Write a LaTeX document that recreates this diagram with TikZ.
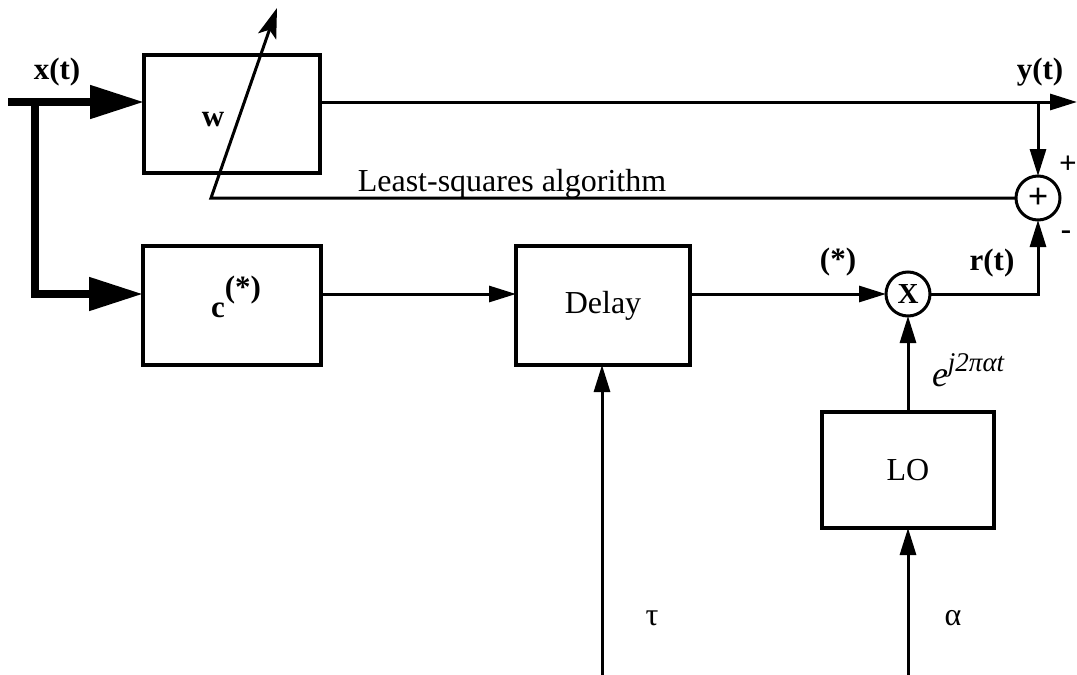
\documentclass[tikz,border=0pt]{standalone}
\usepackage{fontspec}
\setmainfont{Liberation Serif}
\usetikzlibrary{arrows.meta}
\begin{document}
\begin{tikzpicture}[x=1pt,y=-1pt,
  every node/.style={font=\fontsize{32}{38}\selectfont, inner sep=0pt, outer sep=0pt},
  blk/.style={draw,line width=3.4pt},
  junc/.style={draw,circle,line width=3pt,minimum size=44pt},
  wire/.style={line width=3pt},
  arr/.style={wire,-{Triangle[length=27pt,width=16pt]}},
  bus/.style={line width=8pt,line join=miter},
  busarr/.style={bus,-{Triangle[length=54pt,width=32pt]}},
  adjarr/.style={wire,line join=miter,-{Stealth[length=30pt,width=19pt,inset=7pt]}},
  lbl/.style={font=\fontsize{31}{36}\selectfont\bfseries}]
\useasboundingbox (0,0) rectangle (1077,675);

% blocks
\node[blk,minimum width=176pt,minimum height=118pt] (W) at (232,114) {};
\node[lbl] (wl) at (213,120) {w};
\node[blk,minimum width=178pt,minimum height=119pt] (C) at (232,305.5) {};
\node[lbl,anchor=base] (cl) at (236,317) {c\raisebox{20pt}{(*)}};
\node[blk,minimum width=174pt,minimum height=119pt] (D) at (603,305.5) {Delay};
\node[blk,minimum width=172pt,minimum height=116pt] (LO) at (908,470) {LO};
\node[junc] (S) at (1038,198) {\fontsize{36}{40}\selectfont\bfseries +};
\node[junc] (M) at (908,294) {\fontsize{29}{34}\selectfont\bfseries X};

% free ends and corners
\coordinate (in) at (8,102);
\coordinate (br) at (35,102);
\coordinate (yout) at (1077,102);
\coordinate (ytap) at (1038,102);
\coordinate (fb) at (211,198);
\coordinate (tip) at (277,8);
\coordinate (tau) at (602,675);
\coordinate (alp) at (908,675);

% input bus
\draw[busarr] (in) -- (in -| W.west);
\draw[busarr] (br) |- (C.west |- M);

% signal paths
\draw[arr] (W.east |- in) -- (yout);
\draw[arr] (ytap) -- (S);
\draw[adjarr] (S.west) -- (fb) -- (tip);
\draw[arr] (C.east |- M) -- (D.west |- M);
\draw[arr] (D.east |- M) -- (M);
\draw[arr] (M) -| (S);
\draw[arr] (LO) -- (M);
\draw[arr] (tau) -- (tau |- D.south);
\draw[arr] (alp) -- (LO);

% labels
\node[lbl] (xl) at (57,72) {x(t)};
\node[lbl] (yl) at (1040,72) {y(t)};
\node[lbl] (pl) at (1068,165) {+};
\node[lbl] (ml) at (1066,235) {-};
\node[lbl] (rl) at (992,263) {r(t)};
\node[lbl] (sl) at (838,262) {(*)};
\node[anchor=base] (ls) at (512,191) {Least-squares algorithm};
\node (taul) at (652,618) {τ};
\node (alpl) at (953,618) {α};
\node[anchor=base west] (el) at (932,386) {\fontsize{36}{40}\selectfont\itshape e\raisebox{15pt}{\fontsize{27}{30}\selectfont j2παt}};
\end{tikzpicture}
\end{document}
